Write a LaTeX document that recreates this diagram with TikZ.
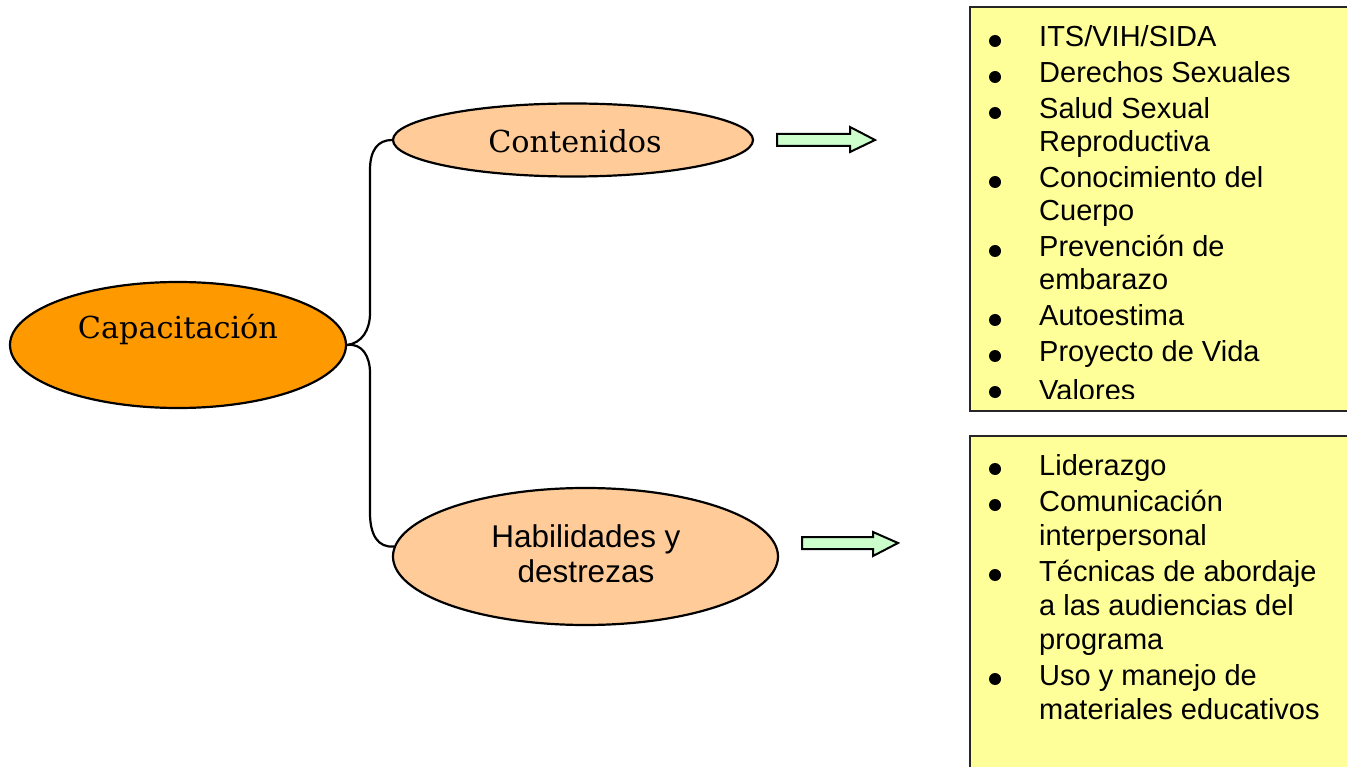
\documentclass[tikz,border=0pt]{standalone}
\usepackage{fontspec}
\setmainfont{Liberation Sans}
\newfontfamily\titlefont{DejaVu Serif}
\usetikzlibrary{shapes.geometric}
\definecolor{capfill}{HTML}{FF9900}
\definecolor{subfill}{HTML}{FFCC99}
\definecolor{listfill}{HTML}{FFFF99}
\definecolor{arrowfill}{HTML}{CCFFCC}
\begin{document}
\begin{tikzpicture}[x=1pt,y=-1pt,
  oval/.style={ellipse, draw=black, line width=2.2pt, inner sep=0pt},
  listbox/.style={draw=black!85, line width=2.4pt, fill=listfill},
  brace/.style={draw=black, line width=2.2pt},
  blockarrow/.style={draw=black, line width=2pt, fill=arrowfill, line join=miter},
  item/.style={anchor=base west, inner sep=0pt, font=\fontsize{29}{34}\selectfont},
  dot/.style={circle, fill=black, inner sep=0pt, minimum size=12pt},
  serifl/.style={inner sep=0pt, font=\titlefont\fontsize{30.3}{36}\selectfont},
  sansl/.style={inner sep=0pt, align=center, font=\fontsize{31.5}{35}\selectfont}
]
\clip (0,0) rectangle (1347,767);
\fill[white] (0,0) rectangle (1347,767);

% main and secondary ellipses
\node[oval, fill=capfill, minimum width=336pt, minimum height=126pt] (cap) at (178,345) {};
\node[serifl] (capt) at (178,330) {Capacitación};
\node[oval, fill=subfill, minimum width=360pt, minimum height=73pt] (cont) at (573,140) {};
\node[serifl] (contt) at (575,141) {Contenidos};
\node[oval, fill=subfill, minimum width=385pt, minimum height=137pt] (hab) at (585.5,556.5) {};
\node[sansl] (habt) at (586,554) {Habilidades y\\destrezas};

% branching brace
\draw[brace] (cap.east) .. controls (362,343) and (370,330) .. (370,313)
  -- (370,170) .. controls (370,150) and (378,140) .. (cont.west);
\draw[brace] (cap.east) .. controls (362,343) and (370,356) .. (370,373)
  -- (370,513) .. controls (370,535) and (378,548) .. (hab.177);

% block arrows
\draw[blockarrow] (777,134) -- (850,134) -- (850,127) -- (875,140) -- (850,152)
  -- (850,146) -- (777,146) -- cycle;
\draw[blockarrow] (802,537) -- (873,537) -- (873,532) -- (898,543) -- (873,556)
  -- (873,549) -- (802,549) -- cycle;

% list boxes
\draw[listbox] (970,7) rectangle (1370,411);
\draw[listbox] (970,436) rectangle (1370,800);

% first list: the last line is cut by the box's text area
\begin{scope}
\clip (972,9) rectangle (1347,398);
\node[item] (a1) at (1039,47) {ITS/VIH/SIDA};
\node[item] (a2) at (1039,83) {Derechos Sexuales};
\node[item] (a3) at (1039,119) {Salud Sexual};
\node[item] (a3b) at (1039,152) {Reproductiva};
\node[item] (a4) at (1039,188) {Conocimiento del};
\node[item] (a4b) at (1039,221) {Cuerpo};
\node[item] (a5) at (1039,257) {Prevención de};
\node[item] (a5b) at (1039,290) {embarazo};
\node[item] (a6) at (1039,326) {Autoestima};
\node[item] (a7) at (1039,362) {Proyecto de Vida};
\node[item] (a8) at (1039,400) {Valores};
\end{scope}
\foreach \yy/\nm in {47/1,83/2,119/3,188/4,257/5,326/6,362/7,398/8}
  \node[dot] (ba\nm) at (995,\yy-6) {};

% second list
\node[item] (b1) at (1039,475) {Liderazgo};
\node[item] (b2) at (1039,511) {Comunicación};
\node[item] (b2b) at (1039,545) {interpersonal};
\node[item] (b3) at (1039,581) {Técnicas de abordaje};
\node[item] (b3b) at (1039,615) {a las audiencias del};
\node[item] (b3c) at (1039,649) {programa};
\node[item] (b4) at (1039,685) {Uso y manejo de};
\node[item] (b4b) at (1039,719) {materiales educativos};
\foreach \yy/\nm in {475/1,511/2,581/3,685/4}
  \node[dot] (bb\nm) at (995,\yy-6) {};
\end{tikzpicture}
\end{document}
